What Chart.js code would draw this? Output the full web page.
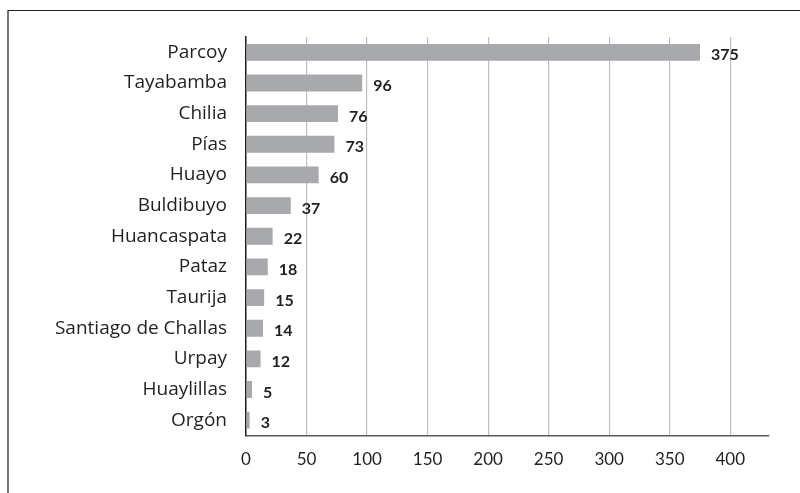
<!DOCTYPE html>
<html>
<head>
<meta charset="utf-8">
<script src="https://cdn.jsdelivr.net/npm/chart.js@4"></script>
<style>
  html, body { margin: 0; padding: 0; background: #fff; }
  #wrap { width: 800px; height: 493px; position: relative; }
</style>
</head>
<body>
<div id="wrap"><canvas id="myChart"></canvas></div>
<script>
const districts = ["Parcoy", "Tayabamba", "Chilia", "Pías", "Huayo", "Buldibuyo", "Huancaspata",
  "Pataz", "Taurija", "Santiago de Challas", "Urpay", "Huaylillas", "Orgón"];
const counts = [375, 96, 76, 73, 60, 37, 22, 18, 15, 14, 12, 5, 3];
const xTicks = [0, 50, 100, 150, 200, 250, 300, 350, 400];

// value labels at the end of each bar + the outer frame
const extras = {
  id: "extras",
  afterDatasetsDraw(chart) {
    const ctx = chart.ctx;
    const meta = chart.getDatasetMeta(0);
    ctx.save();
    ctx.fillStyle = "#231f20";
    ctx.font = "bold 16px Lato";
    ctx.textAlign = "left";
    ctx.textBaseline = "middle";
    meta.data.forEach((bar, i) => {
      ctx.fillText(counts[i], bar.x + 11, bar.y + 3);
    });
    ctx.restore();
  },
  beforeDraw(chart) {
    const ctx = chart.ctx;
    ctx.save();
    ctx.strokeStyle = "#231f20";
    ctx.lineWidth = 1.2;
    ctx.beginPath();
    ctx.moveTo(8, 500);
    ctx.lineTo(8, 10.5);
    ctx.lineTo(805, 10.5);
    ctx.stroke();
    ctx.restore();
  }
};

new Chart(document.getElementById("myChart"), {
  type: "bar",
  data: {
    labels: districts,
    datasets: [{
      data: counts,
      backgroundColor: "#a7a9ac",
      barPercentage: 0.55,
      categoryPercentage: 1.0
    }]
  },
  options: {
    indexAxis: "y",
    responsive: true,
    maintainAspectRatio: false,
    animation: false,
    layout: { padding: { left: 0, right: 31, top: 37, bottom: 0 } },
    plugins: { legend: { display: false }, tooltip: { enabled: false } },
    scales: {
      x: {
        min: 0,
        max: 432,
        afterFit: (s) => { s.height = 57.5; },
        afterBuildTicks: (s) => { s.ticks = xTicks.map((v) => ({ value: v })); },
        ticks: { font: { family: "Lato", size: 17 }, color: "#231f20", padding: 14 },
        grid: { color: "#bcbec0", lineWidth: 1.2, drawTicks: false },
        border: { color: "#58595b", width: 1.5 }
      },
      y: {
        afterFit: (s) => { s.width = 246; },
        ticks: { font: { family: "Open Sans", size: 19 }, color: "#231f20", padding: 19 },
        grid: { display: false, drawTicks: false },
        border: { color: "#231f20", width: 1.5 }
      }
    }
  },
  plugins: [extras]
});
</script>
</body>
</html>
